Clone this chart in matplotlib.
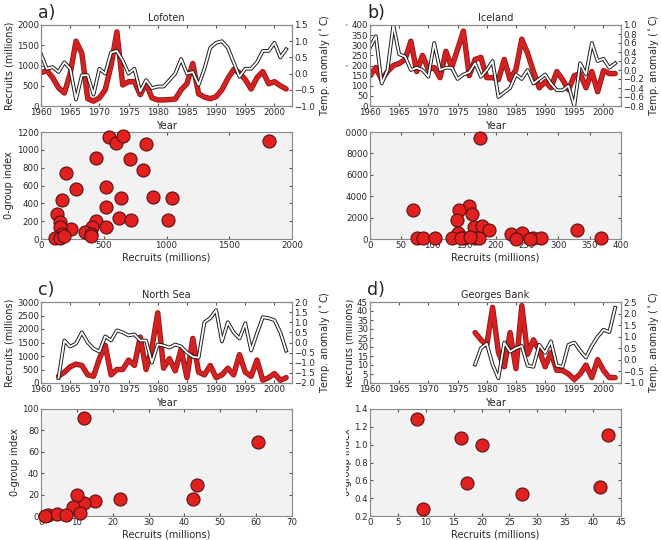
import numpy as np
import matplotlib
matplotlib.use("Agg")
import matplotlib.pyplot as plt
import matplotlib.patheffects as pe
from matplotlib.patches import Rectangle

# ---- data ----
years_a = list(range(1960, 2003))
recruits_a = [820, 880, 700, 450, 320, 800, 1600, 1300, 180, 120, 200, 400, 1000, 1830,
              520, 600, 600, 280, 560, 200, 150, 150, 160, 170, 400, 550, 1050, 300, 220,
              180, 230, 400, 680, 900, 820, 650, 420, 700, 850, 550, 600, 500, 420]
temp_a = [0.6, 0.15, 0.2, 0.05, 0.35, 0.15, -0.8, -0.05, -0.05, -0.65, 0.15, 0.0, 0.65,
          0.7, 0.4, 0.0, 0.15, -0.55, -0.2, -0.45, -0.4, -0.4, -0.2, 0.0, 0.45, 0.0, 0.05,
          -0.35, 0.15, 0.8, 0.95, 1.0, 0.8, 0.35, -0.1, 0.15, 0.15, 0.35, 0.7, 0.7, 0.95,
          0.5, 0.75]
sc_a_x = [1820, 540, 600, 650, 840, 440, 710, 810, 200, 280, 520, 170, 640, 890, 1040, 520,
          130, 620, 720, 1010, 150, 440, 240, 150, 410, 520, 350, 400, 170, 110, 150, 400, 180]
sc_a_y = [1100, 1140, 1080, 1160, 1070, 910, 900, 770, 740, 560, 580, 440, 460, 470, 460, 360,
          280, 230, 210, 210, 190, 200, 110, 130, 130, 140, 80, 60, 60, 10, 10, 30, 30]

years_b = list(range(1960, 2003))
recruits_b = [150, 190, 130, 170, 200, 210, 230, 320, 170, 250, 180, 190, 140, 270, 190, 280,
              370, 150, 230, 240, 140, 140, 130, 230, 130, 180, 330, 260, 170, 90, 120, 90,
              170, 130, 80, 150, 160, 90, 170, 70, 175, 160, 160]
temp_b = [0.5, 0.75, -0.3, 0.0, 1.0, 0.35, 0.3, 0.0, 0.05, 0.0, -0.15, 0.6, 0.0, 0.05, 0.05,
          -0.2, -0.1, -0.05, 0.15, -0.15, 0.0, 0.2, -0.6, -0.5, -0.4, -0.1, -0.2, 0.0, -0.3,
          -0.2, -0.1, -0.3, -0.45, -0.45, -0.35, -0.8, 0.15, -0.1, 0.6, 0.2, 0.25, 0.05, 0.15]
sc_b_x = [175, 68, 158, 142, 162, 138, 165, 178, 190, 140, 225, 243, 330, 75, 85, 103, 130,
          150, 168, 173, 232, 260, 272, 368, 145, 160, 255]
sc_b_y = [9400, 2750, 3050, 2750, 2350, 1750, 1150, 1250, 850, 600, 450, 580, 800, 100, 50,
          50, 50, 50, 50, 50, 30, 50, 50, 100, 100, 150, 20]

years_c = list(range(1963, 2003))
recruits_c = [250, 400, 600, 700, 650, 300, 250, 900, 1400, 300, 500, 500, 850, 650, 1700,
              500, 1300, 2600, 550, 900, 450, 1250, 200, 1650, 400, 300, 650, 200, 300, 550,
              300, 1050, 400, 250, 850, 100, 200, 350, 100, 200]
temp_c = [-1.75, 0.1, -0.2, -0.05, 0.5, 0.0, -0.3, -0.45, 0.3, 0.1, 0.6, 0.5, 0.35, 0.4, 0.1,
          0.1, -1.0, -0.1, -0.15, -0.25, -0.1, -0.2, -0.5, -0.7, -0.75, 1.0, 1.2, 1.6, 0.05,
          1.0, 0.5, 0.2, 0.95, -0.4, 0.45, 1.25, 1.2, 1.1, 0.5, -0.4]
sc_c_x = [12, 60.5, 43.5, 42.5, 22, 15, 12, 10, 9, 11, 2, 4.5, 7, 1]
sc_c_y = [92, 69, 29, 16, 16, 14, 12, 20, 8, 3, 1, 2, 1, 0]

years_d = list(range(1978, 2003))
recruits_d = [28, 24, 21, 42, 17, 9, 28, 8, 43, 16, 24, 18, 9, 17, 7, 7, 5, 2, 5, 10, 3, 13,
              7, 3, 3]
temp_d = [-0.2, 0.5, 0.7, -0.2, -0.8, 0.75, 0.35, 0.5, 0.6, -0.25, -0.3, 0.65, 0.3, 0.8,
          -0.25, -0.3, 0.65, 0.75, 0.4, 0.1, 0.6, 1.0, 1.3, 1.2, 2.25]
sc_d_x = [8.5, 9.5, 16.3, 17.4, 20, 27.3, 41.3, 42.7]
sc_d_y = [1.29, 0.28, 1.08, 0.57, 1.0, 0.45, 0.53, 1.11]

TXT = "#262626"
EDGE = "#8a8a8a"
plt.rcParams.update({
    "font.family": "DejaVu Sans",
    "font.size": 6.2,
    "text.color": TXT,
    "axes.labelcolor": TXT,
    "xtick.color": "#555555",
    "ytick.color": "#555555",
    "xtick.labelcolor": TXT,
    "ytick.labelcolor": TXT,
    "axes.edgecolor": EDGE,
    "xtick.direction": "in",
    "ytick.direction": "in",
    "xtick.major.size": 2.5,
    "ytick.major.size": 2.5,
    "xtick.major.pad": 1.5,
    "ytick.major.pad": 1.5,
    "axes.labelpad": 2,
})

W, H = 661, 540
fig = plt.figure(figsize=(W / 100, H / 100), dpi=100)


def box(l, t, r, b):
    return [l / W, 1 - b / H, (r - l) / W, (b - t) / H]


red_fx = [pe.Stroke(linewidth=3.9, foreground="#951515", joinstyle="round"), pe.Normal()]
white_fx = [pe.Stroke(linewidth=2.7, foreground="#1a1a1a", joinstyle="round"), pe.Normal()]


def panel(left, top, letter, name, yrs, rec, tmp, rlim, rticks, tlim, tticks,
          sx, sy, sxlim, sxticks, sylim, syticks, z):
    right = left + 251
    ax = fig.add_axes(box(left, top, right, top + 81))
    ax.set_zorder(z)
    ax.plot(yrs, rec, color="#d42222", lw=2.7, solid_joinstyle="round",
            solid_capstyle="round", path_effects=red_fx)
    ax.set_xlim(1960, 2003)
    ax.set_xticks(range(1960, 2001, 5))
    ax.set_ylim(*rlim)
    ax.set_yticks(rticks)
    ax.tick_params(top=True)
    ax.set_xlabel("Year", fontsize=7.2, labelpad=3)
    ax.set_ylabel("Recruits (millions)", fontsize=7)
    ax.set_title(name, fontsize=7, pad=3)
    ax2 = ax.twinx()
    ax2.set_zorder(z + 0.1)
    ax2.patch.set_visible(False)
    ax2.plot(yrs, tmp, color="white", lw=1.3, solid_joinstyle="round", path_effects=white_fx)
    ax2.set_ylim(*tlim)
    ax2.set_yticks(tticks)
    ax2.set_ylabel("Temp. anomaly ($^\\circ$C)", fontsize=7)
    ax2.set_xlim(1960, 2003)
    fig.text((left - 3) / W, 1 - (top - 7) / H, letter, fontsize=12.5, va="baseline")

    sa = fig.add_axes(box(left, top + 107, right, top + 214))
    sa.set_zorder(z + 0.2)
    sa.set_facecolor("#f2f2f2")
    sa.scatter(sx, sy, s=88, color="#e32020", edgecolors="#5a1010", linewidths=0.8,
               zorder=3, clip_on=False)
    sa.set_xlim(*sxlim)
    sa.set_xticks(sxticks)
    sa.set_ylim(*sylim)
    sa.set_yticks(syticks)
    sa.tick_params(top=True, right=True)
    sa.set_xlabel("Recruits (millions)", fontsize=7)
    sa.set_ylabel("0-group index", fontsize=7)
    for a in (ax, ax2, sa):
        a.tick_params(labelsize=6.2)
    return ax, ax2, sa


panel(41, 25, "a)", "Lofoten", years_a, recruits_a, temp_a,
      (0, 2000), range(0, 2001, 500), (-1.0, 1.5), np.arange(-1.0, 1.51, 0.5),
      sc_a_x, sc_a_y, (0, 2000), range(0, 2001, 500), (0, 1200), range(0, 1201, 200), 2)
panel(370, 25, "b)", "Iceland", years_b, recruits_b, temp_b,
      (0, 400), range(0, 401, 50), (-0.8, 1.0), np.arange(-0.8, 1.01, 0.2),
      sc_b_x, sc_b_y, (0, 400), range(0, 401, 50), (0, 10000), range(0, 10001, 2000), 0)
panel(41, 302, "c)", "North Sea", years_c, recruits_c, temp_c,
      (0, 3000), range(0, 3001, 500), (-2.0, 2.0), np.arange(-2.0, 2.01, 0.5),
      sc_c_x, sc_c_y, (0, 70), range(0, 71, 10), (0, 100), range(0, 101, 20), 2)
panel(370, 302, "d)", "Georges Bank", years_d, recruits_d, temp_d,
      (0, 45), range(0, 46, 5), (-1.0, 2.5), np.arange(-1.0, 2.51, 0.5),
      sc_d_x, sc_d_y, (0, 45), range(0, 46, 5), (0.2, 1.4), np.arange(0.2, 1.41, 0.2), 0)

# left-hand panels were pasted over the right-hand ones in the original figure
fig.patches.append(Rectangle((296 / W, 0), (346 - 296) / W, 1, transform=fig.transFigure,
                             facecolor="white", edgecolor="none", zorder=1))

fig.savefig("out.png", dpi=100)
